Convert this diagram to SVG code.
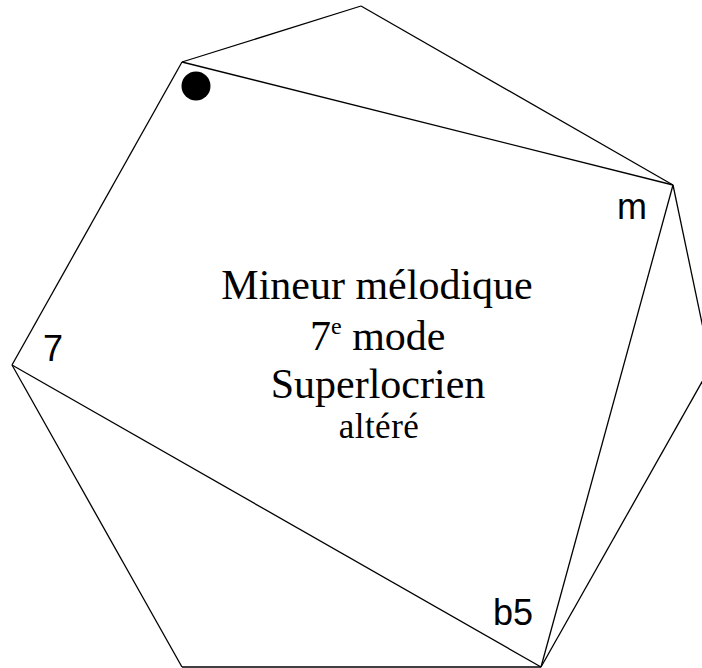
<svg xmlns="http://www.w3.org/2000/svg" width="702" height="668" viewBox="0 0 702 668">
<style>
.e{stroke:#000;stroke-width:1.3;fill:none}
.lbl{font-family:"Liberation Sans",Arial,sans-serif;font-size:36px;fill:#000}
.t{font-family:"Liberation Serif","Times New Roman",serif;font-size:42px;fill:#000}
</style>
<rect width="702" height="668" fill="#fff"/>
<g id="connectors">
<line class="e" x1="182" y1="62" x2="361" y2="6"/>
<line class="e" x1="361" y1="6" x2="673" y2="185"/>
<line class="e" x1="182" y1="62" x2="673" y2="185"/>
<line class="e" x1="673" y1="185" x2="711" y2="366"/>
<line class="e" x1="711" y1="366" x2="541" y2="667"/>
<line class="e" x1="673" y1="185" x2="541" y2="667"/>
<line class="e" x1="541" y1="667" x2="182" y2="667"/>
<line class="e" x1="182" y1="667" x2="12" y2="365"/>
<line class="e" x1="12" y1="365" x2="182" y2="62"/>
<line class="e" x1="12" y1="365" x2="541" y2="667"/>
</g>
<g id="root"><circle cx="196" cy="86" r="14.5" fill="#000"/></g>
<g id="node-m"><text class="lbl" x="617" y="219">m</text></g>
<g id="node-7"><text class="lbl" x="43" y="361">7</text></g>
<g id="node-b5"><text class="lbl" x="493" y="625">b5</text></g>
<g id="title">
<text class="t" x="377" y="299" text-anchor="middle">Mineur mélodique</text>
<text class="t" x="310" y="350">7<tspan font-size="24" dy="-16">e</tspan><tspan dy="16"> mode</tspan></text>
<text class="t" x="378" y="398" text-anchor="middle">Superlocrien</text>
<text class="t" x="379" y="438" text-anchor="middle" style="font-size:35px;letter-spacing:0.5px">altéré</text>
</g>
</svg>
